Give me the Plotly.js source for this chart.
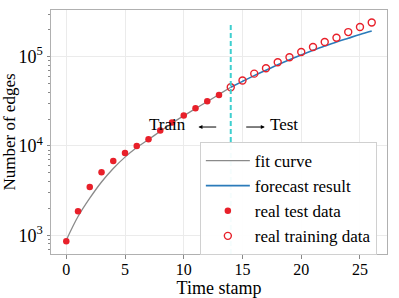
<!DOCTYPE html>
<html>
<head>
<meta charset="utf-8">
<script src="https://cdn.plot.ly/plotly-3.0.1.min.js"></script>
<style>html,body{margin:0;padding:0;background:#fff;}#chart{width:399px;height:298px;}</style>
</head>
<body>
<div id="chart"></div>
<script>
// Fit curve (time stamps 0..14)
const fitX = [0,1,2,3,4,5,6,7,8,9,10,11,12,13,14];
const fitY = [880,1620,2600,3950,5600,7500,9600,11800,14600,18000,21800,26200,31400,37800,45400];
// Forecast result (time stamps 14..26)
const foreX = [14,15,16,17,18,19,20,21,22,23,24,25,26];
const foreY = [45400,52900,61400,70600,81200,92500,104500,117800,131500,146200,161100,177400,194100];
// Real test data (filled dots)
const testX = [0,1,2,3,4,5,6,7,8,9,10,11,12,13];
const testY = [857,1857,3476,5070,6790,8360,10000,11900,14900,18300,21900,26400,31600,37300];
// Real training data (open circles)
const trainX = [14,15,16,17,18,19,20,21,22,23,24,25,26];
const trainY = [45400,54200,64600,74100,86500,98400,112800,128200,145800,162900,188600,214800,242000];
// Y tick labels
const yTickVals = [1000,10000,100000];
const yTickText = ['10<sup>3</sup>','10<sup>4</sup>','10<sup>5</sup>'];
const yMinor = [700,800,900,2000,3000,4000,5000,6000,7000,8000,9000,20000,30000,40000,50000,60000,70000,80000,90000,200000,300000];
const splitX = 14;

const serif = "'Liberation Serif', 'Times New Roman', serif";
const red = '#e8202a';

const traces = [
  {x: fitX, y: fitY, mode: 'lines', name: 'fit curve', line: {color: '#8a8a8a', width: 1.3, shape: 'spline'}},
  {x: foreX, y: foreY, mode: 'lines', name: 'forecast result', line: {color: '#2b7bba', width: 1.6, shape: 'spline'}},
  {x: testX, y: testY, mode: 'markers', name: 'real test data', marker: {color: red, size: 6.5, line: {width: 0}}},
  {x: trainX, y: trainY, mode: 'markers', name: 'real training data', marker: {color: red, size: 7, symbol: 'circle-open', line: {color: red, width: 1.4}}}
];

const axisCommon = {
  showline: true, mirror: true, linecolor: '#b0b0b0', linewidth: 1,
  gridcolor: '#ebebeb', gridwidth: 1, zeroline: false,
  ticks: 'outside', ticklen: 3.5, tickcolor: '#888', tickwidth: 1
};

const layout = {
  width: 399, height: 298,
  margin: {l: 51, r: 12, t: 10, b: 44},
  paper_bgcolor: '#fff', plot_bgcolor: '#fff',
  font: {family: serif, color: '#000'},
  showlegend: true,
  xaxis: Object.assign({}, axisCommon, {
    range: [-1.3, 27.3], tickvals: [0,5,10,15,20,25],
    tickfont: {family: serif, size: 16, color: '#000'},
    ticklabelstandoff: -3,
    title: {text: 'Time stamp', font: {family: serif, size: 18}, standoff: 1}
  }),
  yaxis: Object.assign({}, axisCommon, {
    type: 'log', range: [2.79, 5.523],
    tickvals: yTickVals, ticktext: yTickText,
    tickfont: {family: serif, size: 18, color: '#000'},
    minor: {tickvals: yMinor, ticks: 'outside', ticklen: 2.5, tickcolor: '#888', showgrid: false},
    title: {text: 'Number of edges', font: {family: serif, size: 17}, standoff: 2}
  }),
  legend: {
    x: 0.443, y: 0.459, xanchor: 'left', yanchor: 'top',
    bgcolor: 'rgba(255,255,255,0.95)', bordercolor: '#d0d0d0', borderwidth: 1,
    font: {family: serif, size: 17}, tracegroupgap: 0, itemwidth: 44
  },
  shapes: [
    {type: 'line', xref: 'x', yref: 'paper', x0: splitX, x1: splitX, y0: 0, y1: 0.947,
     line: {color: '#3fcfcf', width: 2, dash: '5px,3px'}}
  ],
  annotations: [
    {x: 8.64, y: Math.log10(17300), xref: 'x', yref: 'y', text: 'Train', showarrow: false, font: {family: serif, size: 17}},
    {x: 11.25, y: Math.log10(16300), ax: 12.89, ay: Math.log10(16300), xref: 'x', yref: 'y', axref: 'x', ayref: 'y',
     text: '', showarrow: true, arrowhead: 2, arrowsize: 0.8, arrowwidth: 1, arrowcolor: '#000'},
    {x: 18.54, y: Math.log10(17300), xref: 'x', yref: 'y', text: 'Test', showarrow: false, font: {family: serif, size: 17}},
    {x: 16.9, y: Math.log10(16300), ax: 15.19, ay: Math.log10(16300), xref: 'x', yref: 'y', axref: 'x', ayref: 'y',
     text: '', showarrow: true, arrowhead: 2, arrowsize: 0.8, arrowwidth: 1, arrowcolor: '#000'}
  ]
};

Plotly.newPlot('chart', traces, layout, {displayModeBar: false, staticPlot: true});
</script>
</body>
</html>
